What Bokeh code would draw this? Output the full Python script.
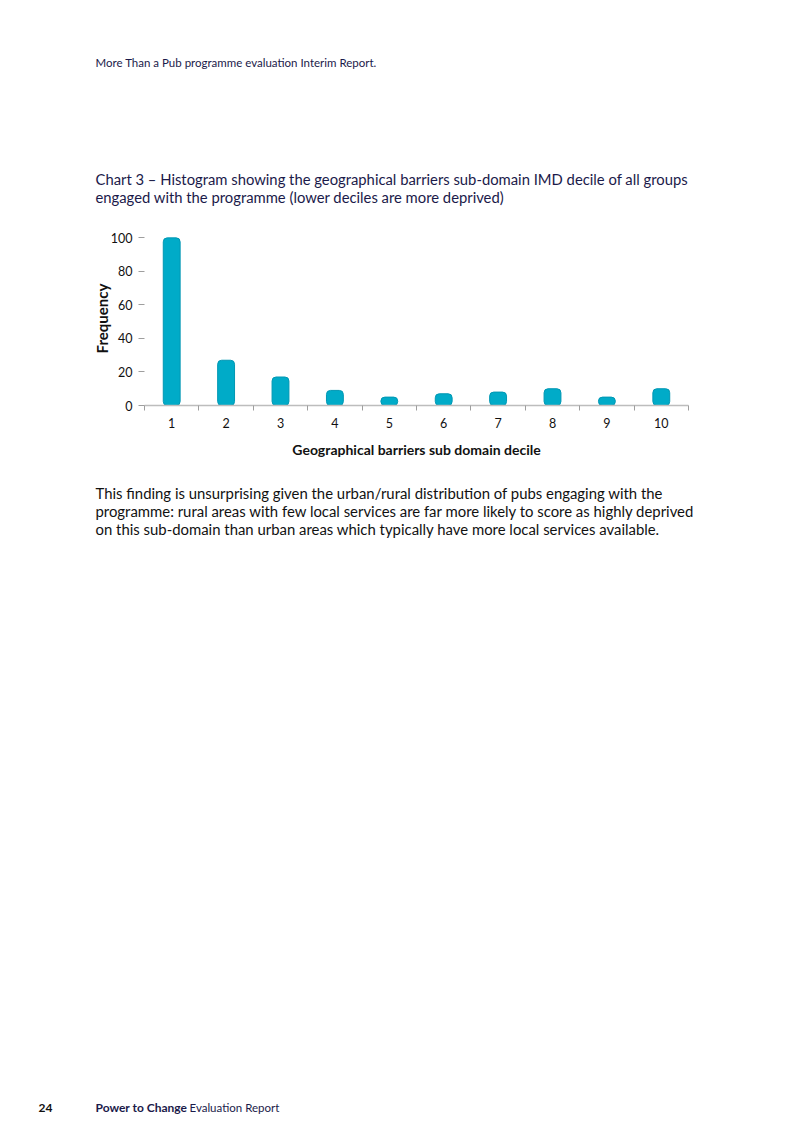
from bokeh.plotting import figure
from bokeh.models import Range1d, FixedTicker, Label
from bokeh.embed import file_html
from bokeh.resources import INLINE

deciles = [1, 2, 3, 4, 5, 6, 7, 8, 9, 10]
frequency = [100, 27, 17, 9, 5, 7, 8, 10, 5, 10]
y_ticks = [0, 20, 40, 60, 80, 100]

header = "More Than a Pub programme evaluation Interim Report."
title_lines = ["Chart 3 \u2013 Histogram showing the geographical barriers sub-domain IMD decile of all groups",
               "engaged with the programme (lower deciles are more deprived)"]
body_lines = ["This finding is unsurprising given the urban/rural distribution of pubs engaging with the",
              "programme: rural areas with few local services are far more likely to score as highly deprived",
              "on this sub-domain than urban areas which typically have more local services available."]
x_label = "Geographical barriers sub domain decile"
y_label = "Frequency"

FONT = "Lato"
NAVY = "#1b1a4a"
W, H = 784, 1116
FL, FR, FT, FB = 144, 688, 231, 405   # chart frame, page pixels
CB = 470                              # bottom of chart figure


def text_fig(top, bottom):
    f = figure(width=W, height=bottom - top, output_backend="svg", toolbar_location=None,
               x_range=Range1d(0, W), y_range=Range1d(bottom, top),
               x_axis_type=None, y_axis_type=None,
               min_border=0, min_border_left=0, min_border_right=0,
               min_border_top=0, min_border_bottom=0)
    f.outline_line_color = None
    f.xgrid.grid_line_color = None
    f.ygrid.grid_line_color = None
    return f


def lab(f, text, X, Y, size, color="#111111", bold=False):
    f.add_layout(Label(x=X, y=Y, text=text, text_font=FONT, text_font_size=size,
                       text_color=color, text_font_style="bold" if bold else "normal",
                       text_align="left", text_baseline="middle"))


top = text_fig(0, FT)
lab(top, header, 95, 62, "11.5px", NAVY)
lab(top, title_lines[0], 95, 178, "14.8px", NAVY)
lab(top, title_lines[1], 95, 196, "14.8px", NAVY)

p = figure(width=W, height=CB - FT, output_backend="svg", toolbar_location=None,
           x_range=Range1d(0.5, 10.5), y_range=Range1d(0, 103.8),
           min_border_left=FL, min_border_right=W - FR,
           min_border_top=0, min_border_bottom=CB - FB)
p.outline_line_color = None
p.xgrid.grid_line_color = None
p.ygrid.grid_line_color = None

p.vbar(x=deciles, top=frequency, bottom=0, width=0.31,
       fill_color="#00abc8", line_color="#0097b3", line_width=1,
       border_radius=4)

xa = p.xaxis[0]
xa.ticker = FixedTicker(ticks=deciles, minor_ticks=[d - 0.5 for d in deciles] + [10.5])
xa.axis_line_color = "#bdbdbd"
xa.axis_line_width = 1.5
xa.major_tick_line_color = None
xa.minor_tick_line_color = "#9e9e9e"
xa.minor_tick_out = 5
xa.minor_tick_in = 0
xa.major_label_text_font = FONT
xa.major_label_text_font_size = "12.5px"
xa.major_label_text_color = "#111111"
xa.major_label_standoff = 6
xa.axis_label = x_label
xa.axis_label_text_font = FONT
xa.axis_label_text_font_size = "14px"
xa.axis_label_text_font_style = "bold"
xa.axis_label_text_color = "#111111"
xa.axis_label_standoff = 10

ya = p.yaxis[0]
ya.ticker = FixedTicker(ticks=y_ticks)
ya.axis_line_color = None
ya.major_tick_line_color = "#9e9e9e"
ya.major_tick_out = 6
ya.major_tick_in = 0
ya.minor_tick_line_color = None
ya.major_label_text_font = FONT
ya.major_label_text_font_size = "12.5px"
ya.major_label_text_color = "#111111"
ya.major_label_standoff = 6
ya.axis_label = y_label
ya.axis_label_text_font = FONT
ya.axis_label_text_font_size = "15px"
ya.axis_label_text_font_style = "bold"
ya.axis_label_text_color = "#111111"
ya.axis_label_standoff = -3

bot = text_fig(CB, H)
for i, t in enumerate(body_lines):
    lab(bot, t, 95, 492 + 18 * i, "14.9px", "#111111")
lab(bot, "24", 38, 1107, "12px", "#111111", bold=True)
lab(bot, "Power to Change", 95, 1107, "12px", NAVY, bold=True)
lab(bot, "Evaluation Report", 189, 1107, "11.5px", NAVY)

open("out.html", "w").write(file_html([top, p, bot], INLINE))
